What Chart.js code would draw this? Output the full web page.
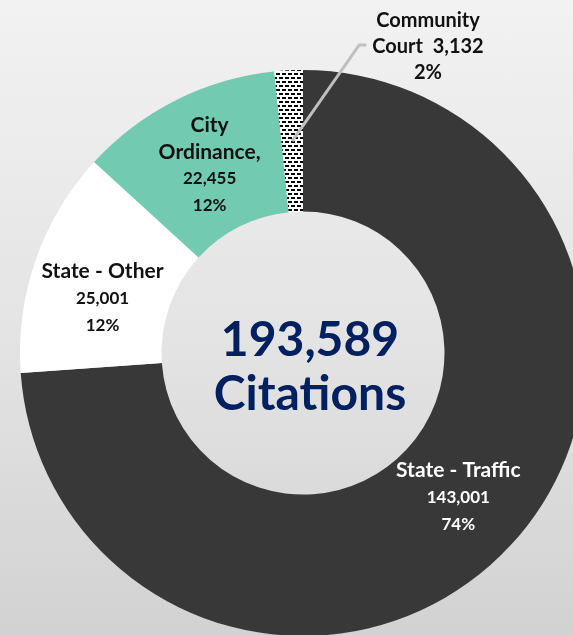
<!DOCTYPE html>
<html>
<head>
<meta charset="utf-8">
<script src="https://cdn.jsdelivr.net/npm/chart.js@4.4.1/dist/chart.umd.min.js"></script>
<style>
  html, body {
    margin: 0;
    padding: 0;
    width: 573px;
    height: 635px;
    overflow: hidden;
    background: linear-gradient(to bottom, #f2f2f2 0%, #e3e3e3 55%, #d2d2d2 100%);
  }
  #wrap { position: absolute; left: 0; top: 0; width: 606px; height: 706px; }
</style>
</head>
<body>
<div id="wrap"><canvas id="pieCanvas" width="606" height="706"></canvas></div>
<script>
const categories = ['State - Traffic', 'State - Other', 'City Ordinance', 'Community Court'];
const nameLines = [['State - Traffic'], ['State - Other'], ['City', 'Ordinance,'], ['Community', 'Court']];
const citations = [143001, 25001, 22455, 3132];
const percentLabels = ['74%', '12%', '12%', '2%'];
const totalLines = ['193,589', 'Citations'];

const ctx = document.getElementById('pieCanvas').getContext('2d');

// dotted/dash fill for the small slice
function makeDashPattern() {
  const c = document.createElement('canvas');
  c.width = 6;
  c.height = 8;
  const g = c.getContext('2d');
  g.fillStyle = '#ffffff';
  g.fillRect(0, 0, 6, 8);
  g.fillStyle = '#000000';
  g.fillRect(0, 1, 4, 2);
  g.fillRect(3, 5, 3, 2);
  g.fillRect(0, 5, 1, 2);
  return ctx.createPattern(c, 'repeat');
}

const fmt = n => n.toLocaleString('en-US');

const sliceLabels = {
  id: 'sliceLabels',
  afterDatasetsDraw(chart, args, opts) {
    const g = chart.ctx;
    const meta = chart.getDatasetMeta(0);
    g.save();
    g.textAlign = 'center';
    g.textBaseline = 'middle';

    meta.data.forEach((arc, i) => {
      const p = arc.getProps(['x', 'y', 'startAngle', 'endAngle', 'innerRadius', 'outerRadius'], true);
      const mid = (p.startAngle + p.endAngle) / 2;
      const rMid = (p.innerRadius + p.outerRadius) / 2;
      const ax = p.x + Math.cos(mid) * rMid;
      const ay = p.y + Math.sin(mid) * rMid;
      const value = fmt(citations[i]);
      g.fillStyle = opts.colors[i];

      if (p.endAngle - p.startAngle < 0.2) {
        // outside label with a leader line
        const kx = ax + opts.calloutDx;
        const ky = p.y - p.outerRadius - 25;
        g.strokeStyle = '#bfbfbf';
        g.lineWidth = 3;
        g.beginPath();
        g.moveTo(ax, ay);
        g.lineTo(kx, ky);
        g.lineTo(kx + 7, ky);
        g.stroke();
        const lines = nameLines[i].slice();
        lines[lines.length - 1] += '  ' + value;
        lines.push(percentLabels[i]);
        g.font = 'bold 20px Lato';
        const w = Math.max(...lines.map(l => g.measureText(l).width));
        const cx = kx + 13 + w / 2;
        lines.forEach((l, k) => {
          g.fillText(l, cx, ky + 2 + (k - 1) * (opts.lineGap - 1));
        });
        return;
      }

      const off = opts.offsets[i];
      const names = nameLines[i];
      const n = names.length + 2;
      const top = ay + off[1] - (n - 1) * opts.lineGap / 2;
      names.forEach((l, k) => {
        g.font = 'bold 21px Lato';
        g.fillText(l, ax + off[0], top + k * opts.lineGap);
      });
      g.font = 'bold 17px Lato';
      g.fillText(value, ax + off[0], top + names.length * opts.lineGap);
      g.fillText(percentLabels[i], ax + off[0], top + (names.length + 1) * opts.lineGap);
    });

    // centre total
    const a0 = meta.data[0];
    g.fillStyle = '#002060';
    g.font = 'bold 48px Lato';
    g.fillText(totalLines[0], a0.x + 7, a0.y - 12);
    g.fillText(totalLines[1], a0.x + 7, a0.y + 42);
    g.restore();
  }
};

new Chart(ctx, {
  type: 'doughnut',
  data: {
    labels: categories,
    datasets: [{
      data: citations,
      backgroundColor: ['#383838', '#ffffff', '#72cab0', makeDashPattern()],
      borderWidth: 0,
      hoverOffset: 0
    }]
  },
  options: {
    responsive: false,
    animation: false,
    cutout: '50%',
    layout: { padding: { left: 20, right: 20, top: 70, bottom: 70 } },
    plugins: {
      legend: { display: false },
      tooltip: { enabled: false },
      sliceLabels: {
        colors: ['#ffffff', '#111111', '#111111', '#111111'],
        offsets: [[0, 0], [0, 15], [2, 2], [0, 0]],
        lineGap: 27,
        calloutDx: 67
      }
    }
  },
  plugins: [sliceLabels]
});
</script>
</body>
</html>
